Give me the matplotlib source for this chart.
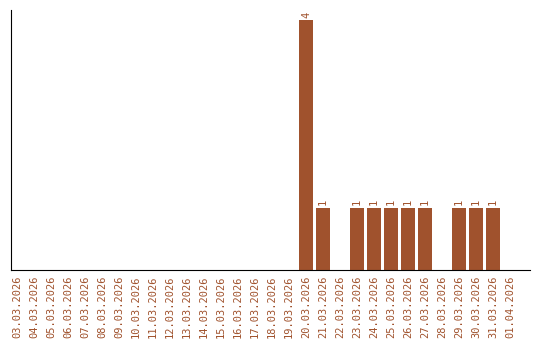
import matplotlib
matplotlib.use("Agg")
import matplotlib.pyplot as plt

# dates 03.03.2026 .. 01.04.2026
days = ["%02d.03.2026" % d for d in range(3, 32)] + ["01.04.2026"]
counts = [0] * 17 + [4, 1, 0, 1, 1, 1, 1, 1, 0, 1, 1, 1, 0]

color = "#A0522D"

fig = plt.figure(figsize=(5.4, 3.4), dpi=100)
ax = fig.add_axes([11 / 540, 1 - 270 / 340, 519 / 540, 260 / 340])

x = list(range(len(days)))
bars = ax.bar(x, counts, width=0.82, color=color)
for xi, v in zip(x, counts):
    if v > 0:
        ax.text(xi, v + 0.04, str(v), rotation=90, ha="center", va="bottom",
                fontsize=7.5, family="DejaVu Sans Mono", color=color)

ax.set_xlim(-0.35, 30.18)
ax.set_ylim(0, 4.16)
ax.set_xticks(x)
ax.set_xticklabels(days, rotation=90, fontsize=7.5, family="DejaVu Sans Mono", color=color)
ax.tick_params(axis="x", length=0, pad=4)
ax.set_yticks([])
ax.spines["top"].set_visible(False)
ax.spines["right"].set_visible(False)

fig.savefig("out.png", dpi=100)
